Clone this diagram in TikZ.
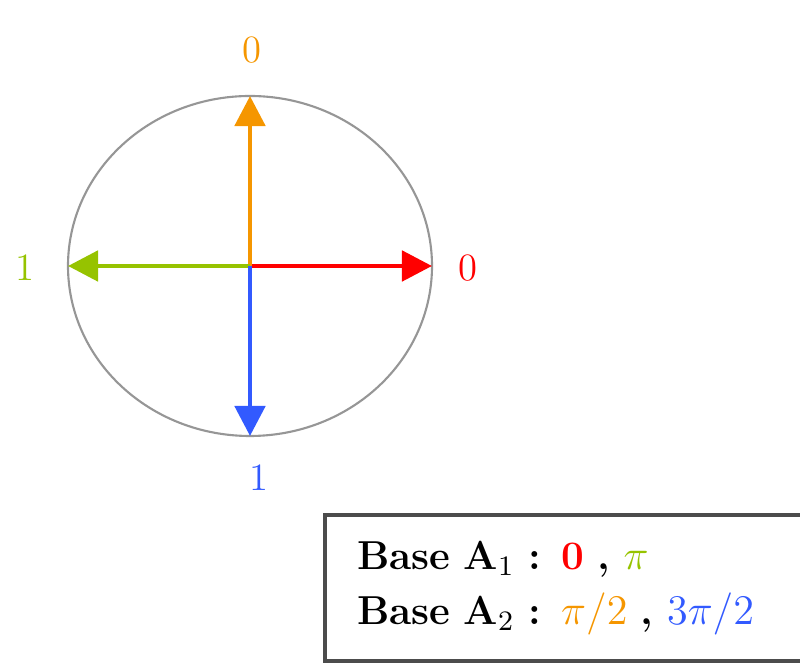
\documentclass[tikz,border=0pt]{standalone}
\usepackage{amsmath,amssymb,bm}
\usepackage{tikz}
\usepackage{xcolor}
\usetikzlibrary{arrows.meta, positioning, calc}

\definecolor{phired}{RGB}{255,0,0}
\definecolor{phigreen}{RGB}{150,195,0}
\definecolor{phiorange}{RGB}{245,150,0}
\definecolor{phiblue}{RGB}{50,90,255}
\definecolor{rimgray}{RGB}{150,150,150}

\begin{document}
\begin{tikzpicture}[
      x=0.01cm, y=0.01cm,
      vec/.style={-{Triangle[length=0.3cm, width=0.3cm]}, line width=1.4pt},
      bit/.style={font=\fontsize{11}{13}\selectfont, inner sep=1pt},
      legendbox/.style={draw=black!70, line width=1.2pt, anchor=south west,
                  font=\fontsize{11.5}{15.6}\selectfont\bfseries,
                  inner xsep=0.32cm, text width=4.4cm, minimum height=1.46cm,
                  align=left}
    ]
    \useasboundingbox (0,0) rectangle (800,667);
    \coordinate (o) at (250,401);
    \draw[rimgray, line width=0.6pt] (o) ellipse [x radius=182, y radius=170];

    \coordinate (e0)   at (432,401);
    \coordinate (e90)  at (250,571);
    \coordinate (e180) at (68,401);
    \coordinate (e270) at (250,231);
    \draw[vec, phired]    (o) -- (e0);
    \draw[vec, phiorange] (o) -- (e90);
    \draw[vec, phigreen]  (o) -- (e180);
    \draw[vec, phiblue]   (o) -- (e270);

    \node[bit, text=phired]    (b0)   at (468,399) {0};
    \node[bit, text=phiorange] (b90)  at (252,617) {0};
    \node[bit, text=phigreen]  (b180) at (25,399)  {1};
    \node[bit, text=phiblue]   (b270) at (259,189) {1};

    \node[legendbox] (legend) at (323,4)
      {Base A$_1$ : \textcolor{phired}{0} , \textcolor{phigreen}{$\pi$}\\
       Base A$_2$ : \textcolor{phiorange}{$\pi/2$} , \textcolor{phiblue}{$3\pi/2$}};
  \end{tikzpicture}
\end{document}
